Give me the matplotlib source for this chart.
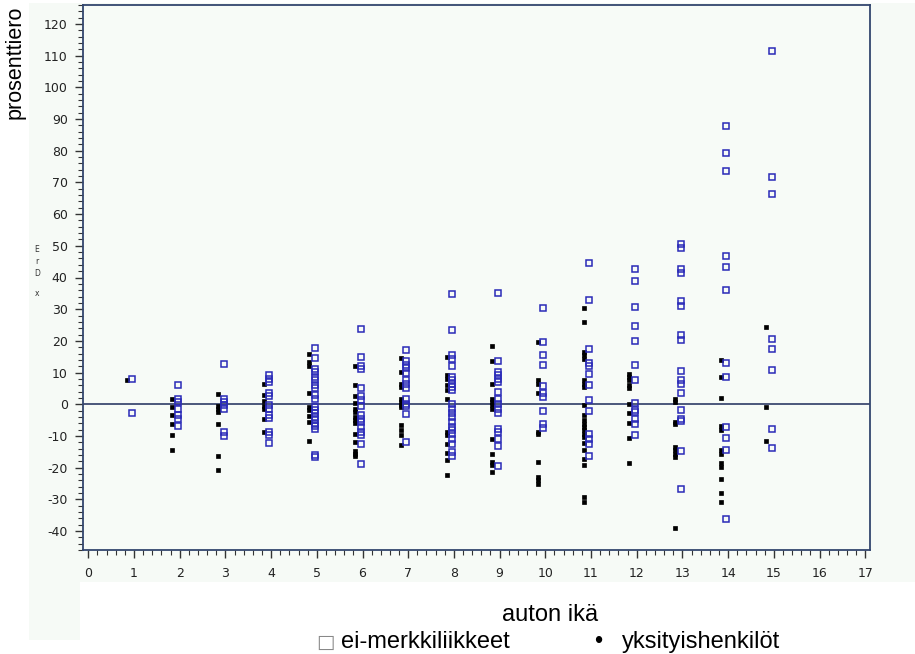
import matplotlib
matplotlib.use("Agg")
import matplotlib.pyplot as plt
from matplotlib.patches import Rectangle
from matplotlib.ticker import MultipleLocator

# ---- data ----
ages = list(range(1, 16))

# yksityishenkilöt (black dots)
private_vals = [
    [7.6],
    [1.8, -0.8, -3.5, -6.3, -9.8, -14.5],
    [3.1, -0.6, -1.4, -2.4, -6.1, -16.4, -20.8],
    [6.3, 2.8, 1.0, -0.5, -1.5, -4.5, -8.9],
    [15.8, 13.2, 12.0, 3.4, -0.8, -1.9, -3.8, -5.6, -11.7],
    [12.0, 6.0, 2.5, 0.4, -1.4, -2.4, -4.0, -5.1, -5.9, -9.3, -11.9, -14.7, -15.6, -16.4],
    [14.7, 10.2, 6.5, 5.5, 1.8, 0.7, -0.3, -0.8, -6.6, -8.2, -9.8, -12.9],
    [14.9, 9.2, 8.1, 6.0, 4.6, 1.8, -8.7, -9.8, -12.4, -15.3, -17.7, -22.2],
    [18.4, 13.6, 6.3, 1.8, 0.7, -0.3, -1.4, -11.1, -15.8, -18.2, -19.3, -21.4],
    [19.5, 7.6, 6.5, 3.4, -8.7, -9.5, -18.2, -23.0, -24.0, -25.3],
    [30.5, 26.0, 16.5, 15.5, 14.4, 7.6, 6.5, 5.5, -0.3, -3.5, -5.1, -6.1, -7.2, -8.2,
     -9.3, -10.3, -12.2, -14.5, -17.2, -19.3, -29.3, -30.8],
    [9.7, 8.6, 7.6, 6.0, 5.0, 0.2, -2.9, -5.8, -10.8, -18.7],
    [1.8, 0.7, -5.6, -6.3, -13.5, -14.5, -15.6, -16.8, -39.1],
    [14.1, 8.6, 2.1, -6.9, -8.0, -14.3, -15.6, -18.5, -19.8, -23.7, -27.9, -30.8],
    [24.4, -1.0, -11.6],
]

# ei-merkkiliikkeet (blue open squares)
dealer_vals = [
    [8.1, -2.9],
    [6.0, 1.5, 0.7, -1.4, -3.5, -4.8, -6.9],
    [12.8, 1.8, 0.7, -0.3, -1.4, -8.7, -10.1],
    [9.2, 8.1, 7.0, 3.4, 2.5, -0.3, -1.4, -3.5, -4.2, -8.7, -9.8, -12.1],
    [17.9, 14.7, 11.0, 10.2, 8.6, 7.6, 6.0, 5.0, 2.8, 1.5, -0.8, -1.9, -2.9, -4.0,
     -5.0, -6.1, -6.9, -7.9, -16.0, -16.8],
    [23.9, 14.9, 12.0, 11.0, 5.0, 2.5, 1.3, -0.6, -3.5, -4.5, -5.6, -7.2, -8.7, -9.8,
     -12.7, -19.0],
    [17.1, 13.6, 12.5, 11.3, 9.9, 7.8, 6.5, 5.0, 1.8, 0.2, -0.6, -3.2, -11.9],
    [34.7, 23.4, 15.5, 14.4, 12.0, 8.6, 7.6, 6.5, 5.5, 4.4, 0.0, -1.4, -2.7, -4.0,
     -5.6, -7.2, -8.2, -9.3, -11.1, -12.4, -15.0, -16.4],
    [35.1, 13.6, 10.2, 9.2, 8.1, 7.0, 3.9, 1.5, 0.2, -1.4, -2.7, -7.7, -8.7, -11.1,
     -13.2, -19.5],
    [30.5, 19.7, 15.5, 12.3, 5.7, 3.4, 2.3, -2.1, -6.3, -7.4],
    [44.6, 32.8, 17.4, 13.0, 12.1, 9.7, 6.0, 1.3, -2.2, -9.3, -11.1, -12.6, -16.3],
    [42.8, 38.8, 30.7, 24.6, 19.9, 12.5, 7.6, 0.4, -1.9, -2.6, -4.8, -6.1, -9.6],
    [50.7, 49.2, 42.8, 41.3, 32.5, 31.0, 22.0, 20.2, 10.4, 7.6, 6.5, 3.6, -1.9, -4.8,
     -5.4, -14.7, -26.6],
    [87.8, 79.2, 73.7, 46.8, 43.4, 36.2, 13.0, 8.6, -7.2, -10.5, -14.5, -36.1],
    [111.5, 71.6, 66.3, 20.7, 17.3, 10.7, -7.7, -13.8],
]

x_label = "auton ikä"
y_label = "prosenttiero"
legend_dealer = "ei-merkkiliikkeet"
legend_private = "yksityishenkilöt"

# ---- figure ----
W, H = 915, 654
fig = plt.figure(figsize=(W / 100, H / 100), dpi=100)
fig.patch.set_facecolor("white")

panel = "#f6faf6"
fig.patches.append(Rectangle((29 / W, 1 - 582 / H), (W - 29) / W, (582 - 3) / H,
                             transform=fig.transFigure, facecolor=panel,
                             edgecolor="none", zorder=-10))
fig.patches.append(Rectangle((29 / W, 1 - 640 / H), (80 - 29) / W, (640 - 582) / H,
                             transform=fig.transFigure, facecolor=panel,
                             edgecolor="none", zorder=-10))

left, right, top, bottom = 83, 870, 5, 550
ax = fig.add_axes([left / W, 1 - bottom / H, (right - left) / W, (bottom - top) / H])
ax.set_zorder(1)
ax.set_facecolor("#f7fbf7")

px_per_unit = 45.7
x0_px = 88.3
ax.set_xlim((left - x0_px) / px_per_unit, (right - x0_px) / px_per_unit)
ax.set_ylim(-46, 126)

spine_col = "#33466e"
for s in ax.spines.values():
    s.set_color(spine_col)
    s.set_linewidth(1.3)

ax.axhline(0, color="#1c2b5a", lw=1.1, zorder=1)

tick_font = dict(family=["Liberation Sans Narrow", "DejaVu Sans"], size=9)
ax.xaxis.set_minor_locator(MultipleLocator(0.2))
ax.yaxis.set_minor_locator(MultipleLocator(2))
ax.set_xticks(range(0, 18))
ax.set_xticklabels([str(i) for i in range(0, 18)], **tick_font)
ax.set_yticks(range(-40, 121, 10))
ax.set_yticklabels([str(i) for i in range(-40, 121, 10)], **tick_font)
ax.tick_params(axis="both", which="major", direction="out", length=6, width=1,
               color="#333333", labelcolor="#222222")
ax.tick_params(axis="x", which="major", pad=6)
ax.tick_params(axis="y", which="major", pad=5)
ax.tick_params(axis="both", which="minor", direction="out", length=3.5, width=0.8,
               color="#333333")

private_offset = -0.16
dealer_offset = -0.04
for age, vals in zip(ages, private_vals):
    ax.plot([age + private_offset] * len(vals), vals, linestyle="none", marker="s",
            markersize=3.5, markerfacecolor="black", markeredgecolor="black",
            markeredgewidth=0.5, zorder=3)
for age, vals in zip(ages, dealer_vals):
    ax.plot([age + dealer_offset] * len(vals), vals, linestyle="none", marker="s",
            markersize=4.0, markerfacecolor="none", markeredgecolor="#2a2ab8",
            markeredgewidth=1.1, zorder=3)

# garbled SAS vertical label letters
for ch, yp in zip(["E", "r", "D", "x"], [250, 262, 273, 293]):
    fig.text(37 / W, 1 - yp / H, ch, ha="center", va="center", fontsize=5.5,
             family=["Liberation Sans Narrow", "DejaVu Sans"], color="#333333")

text_font = ["Liberation Sans", "DejaVu Sans"]
fig.text(15 / W, 1 - 62 / H, y_label, rotation=90, ha="center", va="center",
         fontsize=15.5, family=text_font, color="black")
fig.text(550 / W, 1 - 621 / H, x_label, ha="center", va="baseline",
         fontsize=17, family=text_font, color="black")
fig.text(316 / W, 1 - 648 / H, "\u25a1", ha="left", va="baseline",
         fontsize=14, family=["DejaVu Sans"], color="#888888")
fig.text(341 / W, 1 - 648 / H, legend_dealer, ha="left", va="baseline",
         fontsize=17, family=text_font, color="black")
fig.text(598 / W, 1 - 648 / H, "\u2022", ha="center", va="baseline",
         fontsize=17, family=text_font, color="black")
fig.text(622 / W, 1 - 648 / H, legend_private, ha="left", va="baseline",
         fontsize=17, family=text_font, color="black")

fig.savefig("out.png", dpi=100, facecolor=fig.get_facecolor())
